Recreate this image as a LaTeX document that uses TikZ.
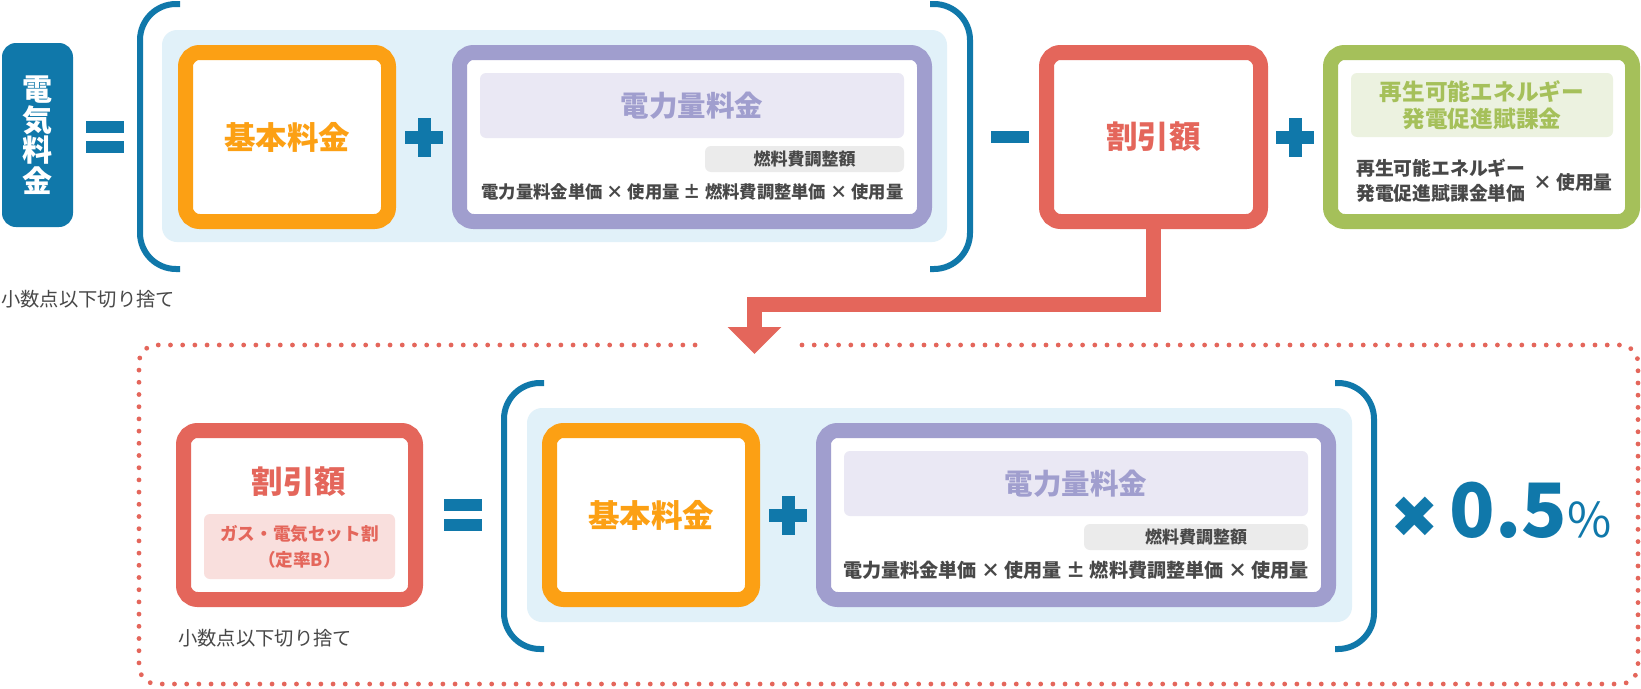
\documentclass[tikz,border=0pt]{standalone}
\usepackage{fontspec}
\setmainfont{Noto Sans CJK JP}
\newfontfamily\symfont{DejaVu Sans}
\usepackage{tikz}
\usetikzlibrary{arrows.meta,positioning}
\definecolor{ELBlue}{HTML}{1078AA}
\definecolor{ELSky}{HTML}{E1F1F9}
\definecolor{ELOrange}{HTML}{FCA014}
\definecolor{ELPurple}{HTML}{A09ECE}
\definecolor{ELLavender}{HTML}{EAE8F4}
\definecolor{ELGray}{HTML}{EBEBEB}
\definecolor{ELRed}{HTML}{E4665B}
\definecolor{ELPink}{HTML}{F9DFDD}
\definecolor{ELGreen}{HTML}{A5C05A}
\definecolor{ELMint}{HTML}{ECF2E0}
\definecolor{ELText}{HTML}{484848}

\begin{document}
\begin{tikzpicture}[x=1pt,y=-1pt,
  boxframe/.style={draw,line width=15pt,fill=white,rounded corners=14pt,minimum height=169pt,inner sep=0pt},
  panel/.style={rounded corners=6pt,inner sep=0pt},
  bigtitle/.style={font=\bfseries\fontsize{31.5}{32}\selectfont},
  subtitle/.style={font=\bfseries\fontsize{28.5}{29}\selectfont,text=ELPurple},
  formula/.style={font=\bfseries\fontsize{17.3}{25}\selectfont,text=ELText,inner sep=0pt},
  tagtext/.style={font=\bfseries\fontsize{17}{18}\selectfont,text=ELText},
  notetext/.style={font=\fontsize{19.3}{20}\selectfont,text=ELText,inner sep=0pt},
  bracket/.style={draw=ELBlue,line width=6pt,rounded corners=36pt},
  dotline/.style={draw=ELRed,line width=4.8pt,line cap=round,dash pattern=on 0pt off 12.2pt,rounded corners=18pt},
  conn/.style={draw=ELRed,line width=15pt,-{Triangle[width=52pt,length=27pt]}},
  plusop/.pic={\fill[ELBlue] (-19,-6.5) rectangle (19,6.5);
    \fill[ELBlue] (-6.5,-19.5) rectangle (6.5,19.5);},
  minusop/.pic={\fill[ELBlue] (-19,-6) rectangle (19,6);},
  eqop/.pic={\fill[ELBlue] (-19,-16) rectangle (19,-4);
    \fill[ELBlue] (-19,4) rectangle (19,16);}
]
\path[fill=white,use as bounding box] (0,0) rectangle (1641,688);

% top row
\fill[ELSky,rounded corners=15pt] (162,30) rectangle (947,242);
\draw[bracket] (180,4) -- (140,4) -- (140,269) -- (180,269);
\draw[bracket] (930,4) -- (970,4) -- (970,269) -- (930,269);
\node[fill=ELBlue,rounded corners=14pt,minimum width=71pt,minimum height=184pt,inner sep=0pt,text=white,align=center,font=\bfseries\fontsize{30}{30.5}\selectfont] (total) at (37.5,135) {電\\気\\料\\金};
\pic at (105,137) {eqop};
\node[boxframe,draw=ELOrange,minimum width=203pt,bigtitle,text=ELOrange] (base1) at (287,137) {基本料金};
\pic at (424,137) {plusop};
\node[boxframe,draw=ELPurple,minimum width=465pt] (energy1) at (692,137) {};
\node[panel,fill=ELLavender,minimum width=424pt,minimum height=65pt,subtitle] (energy1title) at (692,105.5) {電力量料金};
\node[panel,fill=ELGray,minimum width=199pt,minimum height=26pt,tagtext] (fuel1) at (804.5,159) {燃料費調整額};
\node[formula] (calc1) at (692.5,192) {電力量料金単価 × 使用量 ± 燃料費調整単価 × 使用量};
\pic at (1010,137) {minusop};
\node[boxframe,draw=ELRed,minimum width=214pt,bigtitle,text=ELRed] (disc1) at (1153.5,137) {割引額};
\pic at (1295,137) {plusop};
\node[boxframe,draw=ELGreen,minimum width=302pt] (renew) at (1481.5,137) {};
\node[panel,fill=ELMint,minimum width=262pt,minimum height=64pt,text=ELGreen,align=center,font=\bfseries\fontsize{22.7}{27}\selectfont] (renewtitle) at (1482,105) {再生可能エネルギー\\発電促進賦課金};
\node[formula,anchor=west,align=left,font=\bfseries\fontsize{18.8}{25}\selectfont] (renewunit) at (1356,181) {再生可能エネルギー\\発電促進賦課金単価};
\node[formula,anchor=west,font=\bfseries\fontsize{18.8}{25}\selectfont] (renewuse) at (1533,182) {× 使用量};
\node[notetext,anchor=west] (round1) at (1,299) {小数点以下切り捨て};

% discount detail
\coordinate (bend) at (754.5,304.5);
\coordinate (drop) at (754.5,354);
\draw[conn] (disc1.south) |- (bend) -- (drop);
\draw[dotline] (802,345) -- (1638,345) -- (1638,684) -- (139,684) -- (139,345) -- (705,345);
\fill[ELSky,rounded corners=15pt] (527,408) rectangle (1352,622);
\draw[bracket] (544,383) -- (504,383) -- (504,649) -- (544,649);
\draw[bracket] (1335,383) -- (1374,383) -- (1374,649) -- (1335,649);
\node[boxframe,draw=ELRed,minimum width=232pt] (disc2) at (299.5,515) {};
\node[bigtitle,text=ELRed] (disc2title) at (299,482) {割引額};
\node[panel,fill=ELPink,minimum width=191pt,minimum height=65pt,text=ELRed,align=center,font=\bfseries\fontsize{17.6}{26}\selectfont] (setplan) at (299.5,546.5) {ガス・電気セット割\\（定率B）};
\node[notetext,anchor=west] (round2) at (178,638) {小数点以下切り捨て};
\pic at (463,515) {eqop};
\node[boxframe,draw=ELOrange,minimum width=203pt,bigtitle,text=ELOrange] (base2) at (651,515) {基本料金};
\pic at (788,515) {plusop};
\node[boxframe,draw=ELPurple,minimum width=505pt] (energy2) at (1076,515) {};
\node[panel,fill=ELLavender,minimum width=464pt,minimum height=65pt,subtitle] (energy2title) at (1076,483.5) {電力量料金};
\node[panel,fill=ELGray,minimum width=224pt,minimum height=26pt,tagtext] (fuel2) at (1196,537) {燃料費調整額};
\node[formula,font=\bfseries\fontsize{19.1}{25}\selectfont] (calc2) at (1076,570) {電力量料金単価 × 使用量 ± 燃料費調整単価 × 使用量};
\node[text=ELBlue,inner sep=0pt,anchor=base west,font=\bfseries] (rate) at (1390,537) {{\symfont\fontsize{58}{58}\selectfont ✖}\hspace{11pt}{\fontsize{75}{75}\selectfont 0.5}{\fontsize{48}{48}\selectfont\mdseries\%}};
\end{tikzpicture}
\end{document}
